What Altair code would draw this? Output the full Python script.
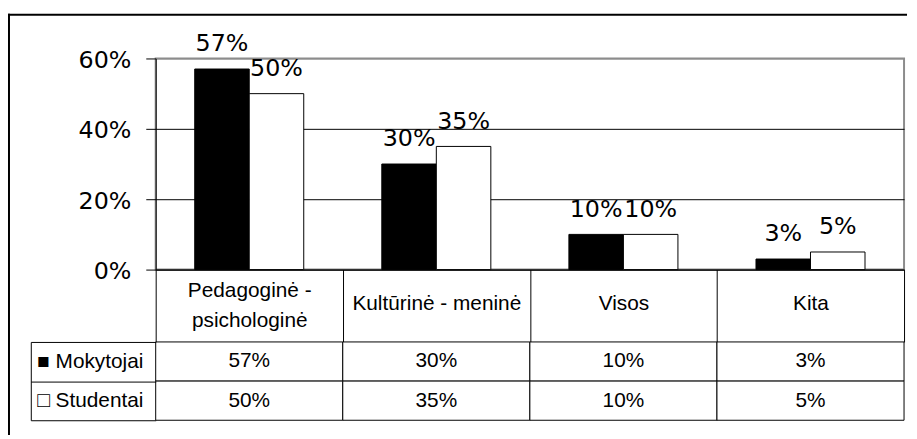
import altair as alt
import pandas as pd

# ---- data ----
categories = ["Pedagoginė - psichologinė", "Kultūrinė - meninė", "Visos", "Kita"]
header_lines = {"Pedagoginė - psichologinė": ["Pedagoginė -", "psichologinė"]}
series = ["Mokytojai", "Studentai"]
mokytojai = [0.57, 0.30, 0.10, 0.03]
studentai = [0.50, 0.35, 0.10, 0.05]
y_ticks = [0, 0.2, 0.4, 0.6]
series_fill = ["#000000", "#ffffff"]
legend_marks = ["■", "□"]

rows = []
for i, c in enumerate(categories):
    rows.append({"kategorija": c, "grupe": series[0], "reiksme": mokytojai[i]})
    rows.append({"kategorija": c, "grupe": series[1], "reiksme": studentai[i]})
df = pd.DataFrame(rows)

BIG_FONT = "DejaVu Sans"
TAB_FONT = "Liberation Sans"
W, H, TAB_H = 755, 213, 79
HEADER_H = 73
LEGEND_W = 126

# multi-line header labels
label_expr = " : ".join(
    [f"datum.label == '{k}' ? {v!r}" for k, v in header_lines.items()] + ["datum.label"]
).replace("\"", "'")
multi_test = " || ".join(f"datum.value == '{k}'" for k in header_lines)

x_axis = alt.Axis(
    title=None, labelAngle=0, labelFont=TAB_FONT, labelFontSize=21, labelColor="black",
    labelExpr=label_expr, labelLineHeight=30, labelBaseline="middle",
    labelPadding={"condition": {"test": multi_test, "value": -52}, "value": -39},
    labelLimit=0, labelOverlap=False, tickBand="extent", tickSize=HEADER_H,
    tickColor="black", tickWidth=1, domainColor="black", domainWidth=1, grid=False,
)
y_axis = alt.Axis(
    title=None, values=y_ticks, format=".0%", labelFont=BIG_FONT, labelFontSize=24,
    labelColor="black", labelPadding=15, labelOffset=2, tickSize=10, tickColor="black",
    tickWidth=1, domainColor="black", domainWidth=1, grid=True, gridWidth=1,
    gridColor={"condition": {"test": "datum.value >= 0.6", "value": "#8c8c8c"}, "value": "black"},
)

x_enc = alt.X("kategorija:N", sort=categories,
              scale=alt.Scale(domain=categories, paddingInner=0, paddingOuter=0), axis=x_axis)
xo_enc = alt.XOffset("grupe:N", sort=series,
                     scale=alt.Scale(domain=series, paddingInner=0, paddingOuter=0.716))
y_enc = alt.Y("reiksme:Q", scale=alt.Scale(domain=[0, 0.6], nice=False, zero=True), axis=y_axis)

bars = alt.Chart(df).mark_bar(stroke="black", strokeWidth=1).encode(
    x=x_enc, xOffset=xo_enc, y=y_enc,
    fill=alt.Fill("grupe:N", scale=alt.Scale(domain=series, range=series_fill), legend=None),
)
bar_labels = alt.Chart(df).mark_text(
    font=BIG_FONT, fontSize=24, baseline="alphabetic", dy=-18, color="black"
).encode(x=x_enc, xOffset=xo_enc, y=y_enc, text=alt.Text("reiksme:Q", format=".0%"))

frame_df = pd.DataFrame({"k": [0]})
frame_top = alt.Chart(frame_df).mark_rule(color="black", strokeWidth=2).encode(
    x=alt.value(-149), x2=alt.value(758), y=alt.value(-44))
frame_left = alt.Chart(frame_df).mark_rule(color="black", strokeWidth=2).encode(
    x=alt.value(-148), y=alt.value(-45), y2=alt.value(380))

top = alt.layer(bars, bar_labels, frame_top, frame_left).properties(
    width=W, height=H, view=alt.ViewBackground(stroke="#8c8c8c", strokeWidth=2))

# ---- data table ----
tab_x = alt.X("kategorija:N", sort=categories,
              scale=alt.Scale(domain=categories, paddingInner=0, paddingOuter=0), axis=None)
legend_expr = (f"datum.label == '{series[0]}' ? '{legend_marks[0]} {series[0]}' : "
               f"datum.label == '{series[1]}' ? '{legend_marks[1]} {series[1]}' : ''")
tab_y_axis = alt.Axis(
    title=None, orient="left", tickBand="extent", tickSize=LEGEND_W, tickColor="black",
    tickWidth=1, domain=False, labelAlign="left", labelPadding=-6, labelFont=TAB_FONT,
    labelFontSize=21, labelColor="black", labelBaseline="middle", labelLimit=0, grid=False,
    labelExpr=legend_expr,
)
edge_axis = alt.Axis(
    title=None, orient="left", offset=LEGEND_W, domain=True, domainColor="black",
    domainWidth=1, ticks=False, labels=False, grid=False,
)
tab_scale = alt.Scale(domain=series, paddingInner=0, paddingOuter=0)

cells = alt.Chart(df).mark_rect(fill="white", stroke="black", strokeWidth=1).encode(
    x=tab_x, y=alt.Y("grupe:N", sort=series, scale=tab_scale, axis=tab_y_axis))
cell_text = alt.Chart(df).mark_text(font=TAB_FONT, fontSize=21, color="black").encode(
    x=tab_x, y=alt.Y("grupe:N", sort=series, scale=tab_scale, axis=edge_axis),
    text=alt.Text("reiksme:Q", format=".0%"))

table = alt.layer(cells, cell_text).resolve_axis(y="independent").properties(
    width=W, height=TAB_H, view=alt.ViewBackground(stroke="transparent"))

chart = alt.vconcat(top, table, spacing=HEADER_H, bounds="flush").properties(
    padding={"left": -2, "top": 2, "right": 0, "bottom": 0}
).configure(background="white")

chart.save("out.html", embed_options={"renderer": "svg", "actions": False})
